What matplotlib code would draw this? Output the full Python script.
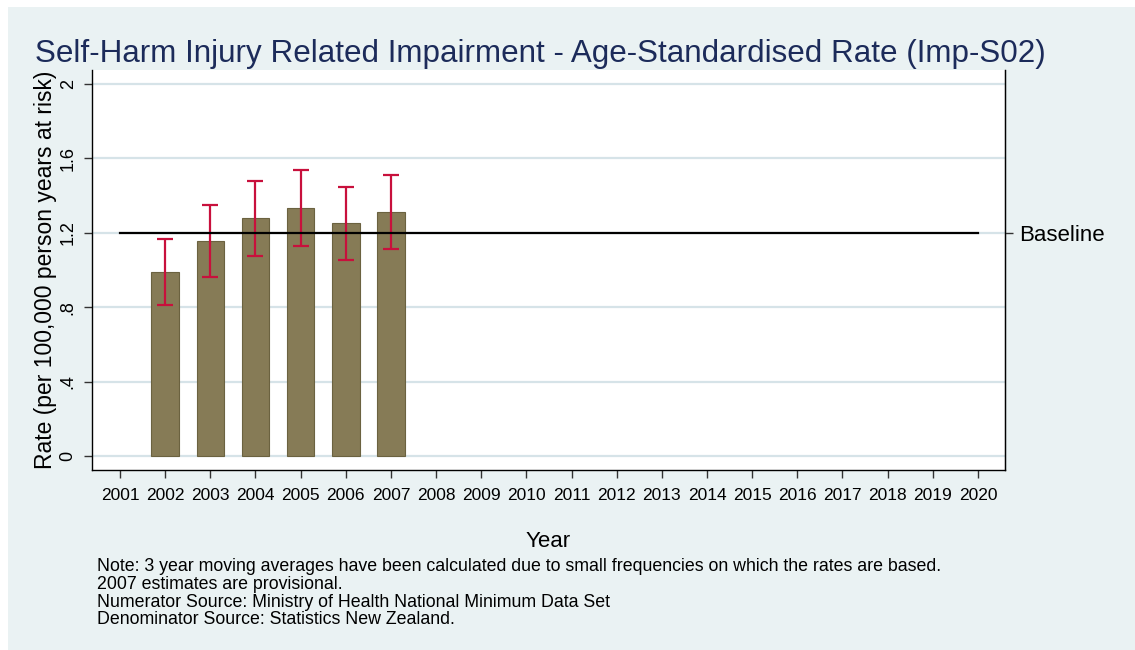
import matplotlib
matplotlib.use("Agg")
import matplotlib.pyplot as plt
from matplotlib.patches import Rectangle

years_axis = list(range(2001, 2021))
bar_years = [2002, 2003, 2004, 2005, 2006, 2007]
rates = [0.988, 1.158, 1.278, 1.335, 1.251, 1.310]
ci_low = [0.810, 0.962, 1.077, 1.131, 1.052, 1.113]
ci_high = [1.165, 1.348, 1.480, 1.539, 1.448, 1.508]
baseline = 1.2
yticks = [0, 0.4, 0.8, 1.2, 1.6, 2.0]
ytick_labels = ["0", ".4", ".8", "1.2", "1.6", "2"]

title = "Self-Harm Injury Related Impairment - Age-Standardised Rate (Imp-S02)"
note = ("Note: 3 year moving averages have been calculated due to small frequencies on which the rates are based.\n"
        "2007 estimates are provisional.\n"
        "Numerator Source: Ministry of Health National Minimum Data Set\n"
        "Denominator Source: Statistics New Zealand.")

plt.rcParams['font.family'] = ['Liberation Sans', 'DejaVu Sans']

W, H = 1135, 650
fig = plt.figure(figsize=(W / 100, H / 100), dpi=100, facecolor='white')
bg = '#EAF2F3'
fig.patches.append(Rectangle((8 / W, 0), 1 - 8 / W, 1 - 7 / H, transform=fig.transFigure,
                             facecolor=bg, edgecolor='none', zorder=-10))

left, right, top, bottom = 92, 1005, 70, 470
ax = fig.add_axes([left / W, 1 - bottom / H, (right - left) / W, (bottom - top) / H])
ax.set_facecolor('white')

grid_c = '#D6E3E8'
for yv in yticks:
    ax.axhline(yv, color=grid_c, lw=1.6, zorder=0)

ax.bar(bar_years, rates, width=0.61, color='#867B56', edgecolor='#6B6240', linewidth=0.8, zorder=2)
err = [[r - l for r, l in zip(rates, ci_low)], [h - r for r, h in zip(rates, ci_high)]]
ax.errorbar(bar_years, rates, yerr=err, fmt='none', ecolor='#C8103C', elinewidth=1.6,
            capsize=5.5, capthick=1.6, zorder=3)
ax.plot([years_axis[0], years_axis[-1]], [baseline, baseline], color='black', lw=1.6, zorder=4)

ax.set_xlim(2000.38, 2020.60)
ax.set_ylim(-0.075, 2.075)
ax.set_xticks(years_axis)
ax.set_xticklabels([str(y) for y in years_axis], fontsize=12.5)
ax.set_yticks(yticks)
ax.set_yticklabels(ytick_labels, fontsize=13, rotation=90, va='center')
ax.tick_params(axis='both', direction='out', length=6, width=1, color='#333333', pad=5)
ax.tick_params(axis='x', pad=7)
for s in ['left', 'bottom', 'right']:
    ax.spines[s].set_color('black')
    ax.spines[s].set_linewidth(1)
ax.spines['top'].set_visible(False)

ax2 = ax.twinx()
ax2.set_ylim(ax.get_ylim())
ax2.set_yticks([baseline])
ax2.set_yticklabels(['Baseline'], fontsize=16)
ax2.tick_params(axis='y', direction='out', length=6, width=1, color='#333333', pad=4)
for s in ['left', 'bottom', 'top']:
    ax2.spines[s].set_visible(False)
ax2.spines['right'].set_color('black')

ax.set_ylabel("Rate (per 100,000 person years at risk)", fontsize=16.5, labelpad=2)
ax.set_xlabel("Year", fontsize=16, labelpad=20)

fig.text(35 / W, 1 - 62 / H, title, fontsize=22.6, color='#1C2B5A', ha='left', va='baseline')
fig.text(97 / W, 1 - 558 / H, note, fontsize=12.8, color='black', ha='left', va='top',
         linespacing=1.06)

fig.savefig('out.png', dpi=100, facecolor='white')
